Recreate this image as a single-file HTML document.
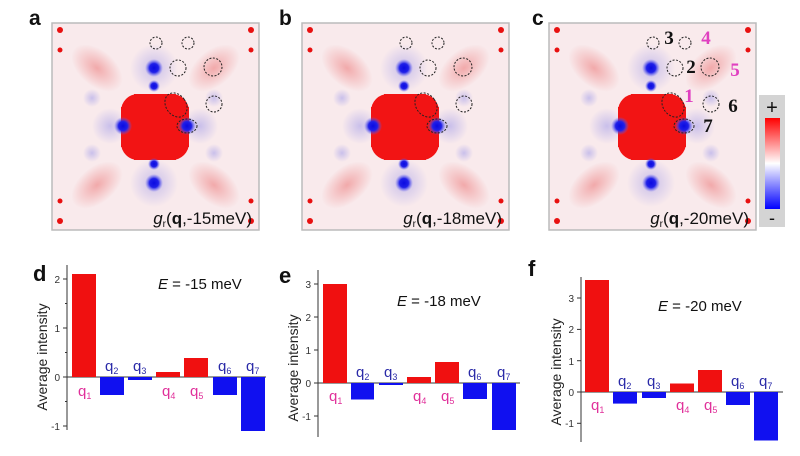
<!DOCTYPE html>
<html><head><meta charset="utf-8"><style>
html,body{margin:0;padding:0;background:#fff;}
svg{display:block;font-family:"Liberation Sans",sans-serif;}
</style></head><body>
<svg width="800" height="456" viewBox="0 0 800 456" xmlns="http://www.w3.org/2000/svg">
<defs>
<radialGradient id="rb"><stop offset="0" stop-color="#e85a5a" stop-opacity=".45"/><stop offset="1" stop-color="#e85a5a" stop-opacity="0"/></radialGradient>
<radialGradient id="bb"><stop offset="0" stop-color="#0a0ae0"/><stop offset=".5" stop-color="#2020e8"/><stop offset="1" stop-color="#6a6af0" stop-opacity="0"/></radialGradient>
<radialGradient id="bh"><stop offset="0" stop-color="#7070e8" stop-opacity=".35"/><stop offset="1" stop-color="#7070e8" stop-opacity="0"/></radialGradient>
<linearGradient id="cb" x1="0" y1="0" x2="0" y2="1"><stop offset="0" stop-color="#f00"/><stop offset=".5" stop-color="#fff"/><stop offset="1" stop-color="#00f"/></linearGradient>
<g id="pan">
<rect x="0" y="0" width="207" height="207" fill="#f9eaec" stroke="#bbb" stroke-width="1.5"/>
<g fill="url(#rb)">
<ellipse cx="45" cy="45" rx="30" ry="18" transform="rotate(40 45 45)"/>
<ellipse cx="162" cy="45" rx="30" ry="18" transform="rotate(-40 162 45)"/>
<ellipse cx="45" cy="162" rx="30" ry="18" transform="rotate(-40 45 162)"/>
<ellipse cx="162" cy="162" rx="30" ry="18" transform="rotate(40 162 162)"/>
</g>
<g fill="url(#bh)">
<circle cx="102" cy="45" r="24"/><circle cx="102" cy="160" r="24"/>
<circle cx="58" cy="103" r="18"/><circle cx="148" cy="103" r="18"/>
<circle cx="40" cy="75" r="9"/><circle cx="162" cy="75" r="9"/><circle cx="40" cy="130" r="9"/><circle cx="162" cy="130" r="9"/>
</g>
<g fill="#f21414">
<circle cx="86" cy="88" r="17"/><circle cx="120" cy="88" r="17"/><circle cx="86" cy="120" r="17"/><circle cx="120" cy="120" r="17"/>
<rect x="69" y="84" width="68" height="40"/>
<rect x="82" y="71" width="42" height="66"/>
</g>
<g fill="url(#bb)">
<circle cx="102" cy="45" r="9"/><circle cx="102" cy="63" r="6"/>
<circle cx="71" cy="103" r="9"/><circle cx="135" cy="103" r="9"/>
<circle cx="102" cy="141" r="6"/><circle cx="102" cy="160" r="9"/>
</g>
<g fill="#e81010">
<circle cx="8" cy="7" r="3"/><circle cx="199" cy="7" r="3"/><circle cx="8" cy="27" r="2.5"/><circle cx="199" cy="27" r="2.5"/>
<circle cx="8" cy="178" r="2.5"/><circle cx="199" cy="178" r="2.5"/><circle cx="8" cy="198" r="3"/><circle cx="199" cy="198" r="3"/>
</g>
<g fill="none" stroke="#222" stroke-width="1" stroke-dasharray="2 1.5">
<circle cx="104" cy="20" r="6"/><circle cx="136" cy="20" r="6"/>
<circle cx="126" cy="45" r="8"/><circle cx="161" cy="44" r="9"/>
<ellipse cx="124" cy="82" rx="10" ry="13" transform="rotate(-35 124 82)"/>
<circle cx="162" cy="81" r="8"/>
<ellipse cx="135" cy="103" rx="10" ry="7"/>
</g>
</g>
</defs>

<g font-weight="bold" font-size="21" fill="#111">
<text x="29" y="25">a</text><text x="279" y="25">b</text><text x="532" y="25">c</text>
</g>
<use href="#pan" transform="translate(52,23)"/>
<use href="#pan" transform="translate(302,23)"/>
<use href="#pan" transform="translate(549,23)"/>
<g font-size="17" fill="#111" text-anchor="end">
<text x="252" y="224"><tspan font-style="italic">g</tspan><tspan font-size="10" dy="3">r</tspan><tspan dy="-3">(</tspan><tspan font-weight="bold">q</tspan>,-15meV)</text>
<text x="502" y="224"><tspan font-style="italic">g</tspan><tspan font-size="10" dy="3">r</tspan><tspan dy="-3">(</tspan><tspan font-weight="bold">q</tspan>,-18meV)</text>
<text x="749" y="224"><tspan font-style="italic">g</tspan><tspan font-size="10" dy="3">r</tspan><tspan dy="-3">(</tspan><tspan font-weight="bold">q</tspan>,-20meV)</text>
</g>
<g font-family="Liberation Serif,serif" font-weight="bold" font-size="19" text-anchor="middle">
<text x="669" y="44" fill="#111">3</text><text x="706" y="44" fill="#e040c0">4</text>
<text x="691" y="73" fill="#111">2</text><text x="735" y="76" fill="#e040c0">5</text>
<text x="689" y="102" fill="#e040c0">1</text><text x="733" y="112" fill="#111">6</text>
<text x="708" y="132" fill="#111">7</text>
</g>
<rect x="759" y="95" width="26" height="132" fill="#d4d4d4"/>
<rect x="765" y="118" width="15" height="91" fill="url(#cb)"/>
<text x="772" y="114" font-size="20" text-anchor="middle" fill="#111">+</text>
<text x="772" y="224" font-size="18" text-anchor="middle" fill="#111">-</text>

<!-- chart d -->
<text x="33" y="281" font-size="22" font-weight="bold" fill="#111">d</text>
<g stroke="#333" stroke-width="1">
<line x1="67" y1="265" x2="67" y2="430"/><line x1="67" y1="377" x2="266" y2="377"/>
<line x1="63" y1="279" x2="67" y2="279"/><line x1="63" y1="328" x2="67" y2="328"/><line x1="63" y1="377" x2="67" y2="377"/><line x1="63" y1="426" x2="67" y2="426"/>
<line x1="65" y1="303.5" x2="67" y2="303.5"/><line x1="65" y1="352.5" x2="67" y2="352.5"/><line x1="65" y1="401.5" x2="67" y2="401.5"/>
</g>
<g font-size="10" fill="#333" text-anchor="end">
<text x="60" y="283">2</text><text x="60" y="332">1</text><text x="60" y="381">0</text><text x="60" y="430">-1</text>
</g>
<text transform="translate(47,357) rotate(-90)" font-size="14" text-anchor="middle" fill="#222">Average intensity</text>
<text x="158" y="289" font-size="15" fill="#111"><tspan font-style="italic">E</tspan> = -15 meV</text>
<g fill="#f01010"><rect x="72" y="274" width="24" height="103"/><rect x="156" y="372" width="24" height="5"/><rect x="184" y="358" width="24" height="19"/></g>
<g fill="#1010f0"><rect x="100" y="377" width="24" height="18"/><rect x="128" y="377" width="24" height="3"/><rect x="213" y="377" width="24" height="18"/><rect x="241" y="377" width="24" height="54"/></g>

<!-- chart e -->
<text x="279" y="283" font-size="22" font-weight="bold" fill="#111">e</text>
<g stroke="#333" stroke-width="1">
<line x1="318" y1="270" x2="318" y2="437"/><line x1="318" y1="383" x2="520" y2="383"/>
<line x1="314" y1="284" x2="318" y2="284"/><line x1="314" y1="317" x2="318" y2="317"/><line x1="314" y1="350" x2="318" y2="350"/><line x1="314" y1="383" x2="318" y2="383"/><line x1="314" y1="416" x2="318" y2="416"/>
</g>
<g font-size="10" fill="#333" text-anchor="end">
<text x="311" y="288">3</text><text x="311" y="321">2</text><text x="311" y="354">1</text><text x="311" y="387">0</text><text x="311" y="420">-1</text>
</g>
<text transform="translate(298,368) rotate(-90)" font-size="14" text-anchor="middle" fill="#222">Average intensity</text>
<text x="397" y="306" font-size="15" fill="#111"><tspan font-style="italic">E</tspan> = -18 meV</text>
<g fill="#f01010"><rect x="323" y="284" width="24" height="99"/><rect x="407" y="377" width="24" height="6"/><rect x="435" y="362" width="24" height="21"/></g>
<g fill="#1010f0"><rect x="351" y="383" width="23" height="16.5"/><rect x="379" y="383" width="24" height="2"/><rect x="463" y="383" width="24" height="16"/><rect x="492" y="383" width="24" height="47"/></g>

<!-- chart f -->
<text x="528" y="276" font-size="22" font-weight="bold" fill="#111">f</text>
<g stroke="#333" stroke-width="1">
<line x1="581" y1="277" x2="581" y2="442"/><line x1="581" y1="392" x2="783" y2="392"/>
<line x1="577" y1="298" x2="581" y2="298"/><line x1="577" y1="329.4" x2="581" y2="329.4"/><line x1="577" y1="360.7" x2="581" y2="360.7"/><line x1="577" y1="392" x2="581" y2="392"/><line x1="577" y1="423.3" x2="581" y2="423.3"/>
</g>
<g font-size="10" fill="#333" text-anchor="end">
<text x="574" y="302">3</text><text x="574" y="333">2</text><text x="574" y="365">1</text><text x="574" y="396">0</text><text x="574" y="427">-1</text>
</g>
<text transform="translate(561,372) rotate(-90)" font-size="14" text-anchor="middle" fill="#222">Average intensity</text>
<text x="658" y="311" font-size="15" fill="#111"><tspan font-style="italic">E</tspan> = -20 meV</text>
<g fill="#f01010"><rect x="585" y="280" width="24" height="112"/><rect x="670" y="383.5" width="24" height="8.5"/><rect x="698" y="370" width="24" height="22"/></g>
<g fill="#1010f0"><rect x="613" y="392" width="24" height="11.6"/><rect x="642" y="392" width="24" height="6"/><rect x="726" y="392" width="24" height="13"/><rect x="754" y="392" width="24" height="48.5"/></g>

<g font-size="15">
<g fill="#e0309a">
<text x="78" y="396">q<tspan font-size="9" dy="3">1</tspan></text>
<text x="162" y="396">q<tspan font-size="9" dy="3">4</tspan></text>
<text x="190" y="396">q<tspan font-size="9" dy="3">5</tspan></text>
<text x="329" y="401">q<tspan font-size="9" dy="3">1</tspan></text>
<text x="413" y="401">q<tspan font-size="9" dy="3">4</tspan></text>
<text x="441" y="401">q<tspan font-size="9" dy="3">5</tspan></text>
<text x="591" y="410">q<tspan font-size="9" dy="3">1</tspan></text>
<text x="676" y="410">q<tspan font-size="9" dy="3">4</tspan></text>
<text x="704" y="410">q<tspan font-size="9" dy="3">5</tspan></text>
</g>
<g fill="#2a2aa8">
<text x="105" y="371">q<tspan font-size="9" dy="3">2</tspan></text>
<text x="133" y="371">q<tspan font-size="9" dy="3">3</tspan></text>
<text x="218" y="371">q<tspan font-size="9" dy="3">6</tspan></text>
<text x="246" y="371">q<tspan font-size="9" dy="3">7</tspan></text>
<text x="356" y="377">q<tspan font-size="9" dy="3">2</tspan></text>
<text x="384" y="377">q<tspan font-size="9" dy="3">3</tspan></text>
<text x="468" y="377">q<tspan font-size="9" dy="3">6</tspan></text>
<text x="497" y="377">q<tspan font-size="9" dy="3">7</tspan></text>
<text x="618" y="386">q<tspan font-size="9" dy="3">2</tspan></text>
<text x="647" y="386">q<tspan font-size="9" dy="3">3</tspan></text>
<text x="731" y="386">q<tspan font-size="9" dy="3">6</tspan></text>
<text x="759" y="386">q<tspan font-size="9" dy="3">7</tspan></text>
</g>
</g>
</svg>
</body></html>
